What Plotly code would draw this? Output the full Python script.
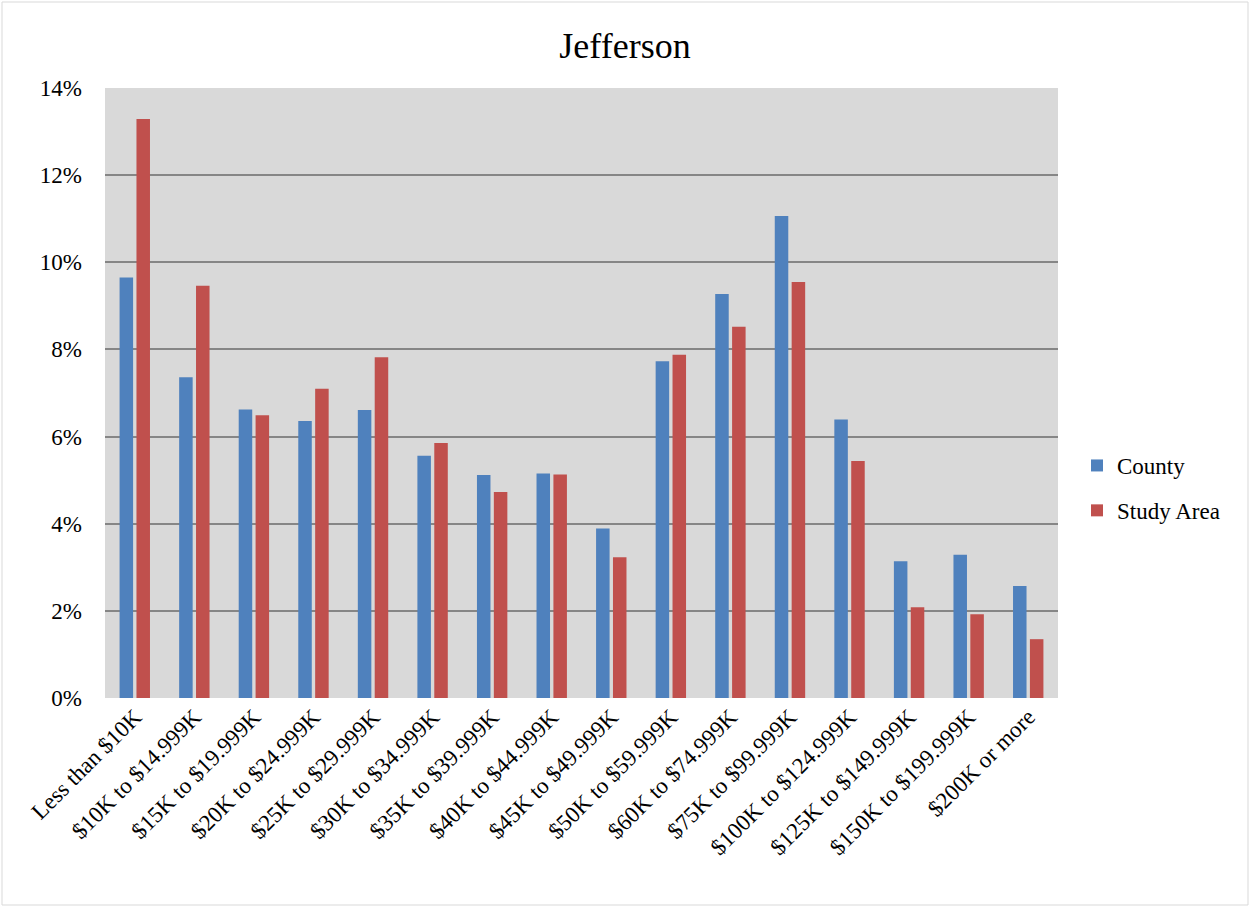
import plotly.graph_objects as go

# Household income distribution, Jefferson
categories = [
    "Less than $10K", "$10K to $14.999K", "$15K to $19.999K", "$20K to $24.999K",
    "$25K to $29.999K", "$30K to $34.999K", "$35K to $39.999K", "$40K to $44.999K",
    "$45K to $49.999K", "$50K to $59.999K", "$60K to $74.999K", "$75K to $99.999K",
    "$100K to $124.999K", "$125K to $149.999K", "$150K to $199.999K", "$200K or more",
]
county = [0.0965, 0.0736, 0.0662, 0.0636, 0.0661, 0.0556, 0.0512, 0.0515,
          0.0389, 0.0773, 0.0927, 0.1106, 0.0639, 0.0314, 0.0329, 0.0257]
study_area = [0.1329, 0.0946, 0.0649, 0.0710, 0.0782, 0.0585, 0.0473, 0.0513,
              0.0323, 0.0788, 0.0852, 0.0955, 0.0544, 0.0208, 0.0192, 0.0135]
y_ticks = [0, 0.02, 0.04, 0.06, 0.08, 0.10, 0.12, 0.14]

FONT = "Liberation Serif, Times New Roman, serif"
W, H = 1250, 907
L, R, T, B = 105, 192, 88, 209
pw, ph = W - L - R, H - T - B

fig = go.Figure()
fig.add_trace(go.Bar(x=categories, y=county, name="County",
                     marker=dict(color="#4F81BD", line=dict(width=0)),
                     legendgroup="a"))
fig.add_trace(go.Bar(x=categories, y=study_area, name="Study Area",
                     marker=dict(color="#C0504D", line=dict(width=0)),
                     legendgroup="b"))

# light frame around the whole chart
fig.add_shape(type="rect", xref="paper", yref="paper",
              x0=(2 - L) / pw, x1=(W - 2 - L) / pw,
              y0=(H - B - (H - 2)) / ph, y1=(H - B - 2) / ph,
              line=dict(color="#D9D9D9", width=1), fillcolor="rgba(0,0,0,0)",
              layer="below")

fig.update_layout(
    width=W, height=H,
    margin=dict(l=L, r=R, t=T, b=B),
    paper_bgcolor="white",
    plot_bgcolor="#D9D9D9",
    font=dict(family=FONT, size=23, color="black"),
    title=dict(text="Jefferson", x=0.5, xref="container", xanchor="center",
               y=1 - 45 / H, yref="container", yanchor="middle",
               font=dict(family=FONT, size=36, color="black")),
    barmode="group", bargap=0.433, bargroupgap=0.2,
    showlegend=True,
    legend=dict(x=(1077 - L) / pw, xanchor="left", y=(H - B - 488) / ph,
                yanchor="middle", font=dict(family=FONT, size=23),
                tracegroupgap=12, bgcolor="rgba(0,0,0,0)",
                itemwidth=30),
    xaxis=dict(tickangle=-45, showgrid=False, zeroline=False, showline=False,
               tickfont=dict(family=FONT, size=23), ticks=""),
    yaxis=dict(range=[0, 0.14], tickvals=y_ticks, tickformat=".0%",
               showgrid=True, gridcolor="#868686", gridwidth=2,
               zeroline=False, showline=False, ticks="",
               ticklabelstandoff=22,
               tickfont=dict(family=FONT, size=23)),
)

fig.write_html("out.html")
